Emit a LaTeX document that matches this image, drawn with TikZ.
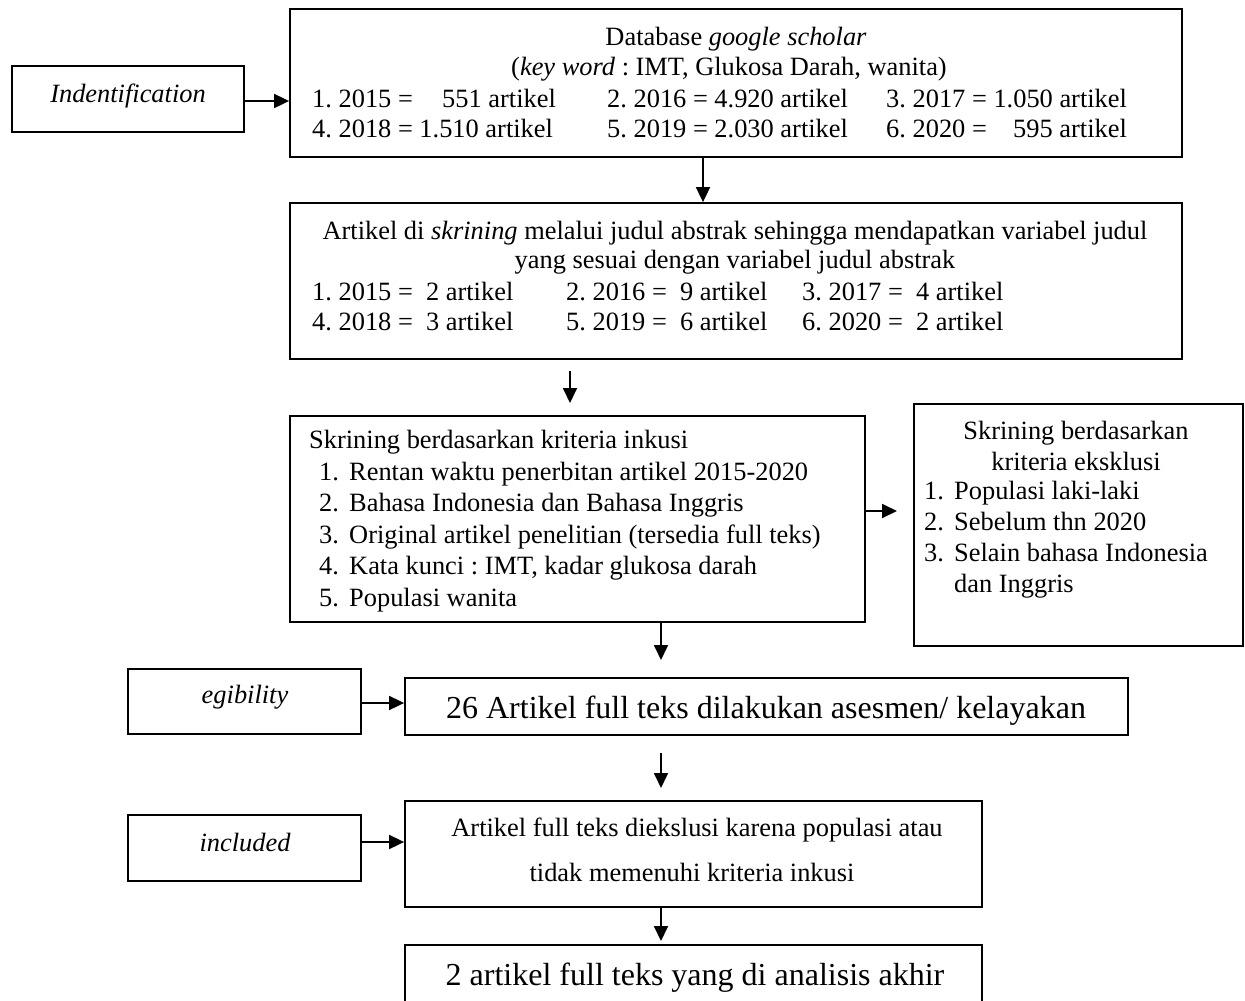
\documentclass[tikz,border=0pt]{standalone}
\usepackage{fontspec}
\setmainfont{Liberation Serif}
\usetikzlibrary{arrows.meta,fit}
\newcommand{\fsn}{\fontsize{26.4pt}{30pt}\selectfont}
\newcommand{\fsb}{\fontsize{32pt}{38pt}\selectfont}
\frenchspacing
\begin{document}
\begin{tikzpicture}[x=1pt,y=-1pt,
  box/.style={draw, line width=1.8pt, inner sep=0pt},
  arr/.style={line width=1.8pt, -{Triangle[length=15pt,width=14pt]}},
  txt/.style={inner sep=0pt, anchor=base west, font=\fsn},
  ctxt/.style={inner sep=0pt, anchor=base, font=\fsn},
  btxt/.style={inner sep=0pt, anchor=base, font=\fsb}]
\fill[white] (0,0) rectangle (1245,1001);
\clip (0,0) rectangle (1245,1001);
% boxes
\node[box, fit={(12,66) (244,132)}] (ind) {};
\node[box, fit={(290,9) (1182,157)}] (db) {};
\node[box, fit={(290,203) (1182,359)}] (scr) {};
\node[box, fit={(290,416) (865,622)}] (inc) {};
\node[box, fit={(914,404) (1243,646)}] (exc) {};
\node[box, fit={(128,669) (361,734)}] (eg) {};
\node[box, fit={(405,678) (1128,735)}] (el) {};
\node[box, fit={(128,815) (361,881)}] (incl) {};
\node[box, fit={(405,801) (982,907)}] (ex) {};
\node[box, fit={(405,945) (982,1040)}] (fin) {};
% texts
\node[ctxt] (tind) at (128,102) {\itshape Indentification};
\node[ctxt] (d1) at (736,45.5) {Database \textit{google scholar}};
\node[ctxt] (d2) at (729,75.5) {(\textit{key word} : IMT, Glukosa Darah, wanita)};
\node[txt] (d3a) at (312,107) {1. 2015 =};
\node[txt] (d3b) at (442,107) {551 artikel};
\node[txt] (d3c) at (607,107) {2. 2016 = 4.920 artikel};
\node[txt] (d3d) at (886,107) {3. 2017 = 1.050 artikel};
\node[txt] (d4a) at (312,137) {4. 2018 = 1.510 artikel};
\node[txt] (d4b) at (607,137) {5. 2019 = 2.030 artikel};
\node[txt] (d4c) at (886,137) {6. 2020 =};
\node[txt] (d4d) at (1013,137) {595 artikel};
\node[ctxt] (s1) at (735,239.5) {Artikel di \textit{skrining} melalui judul abstrak sehingga mendapatkan variabel judul};
\node[ctxt] (s2) at (735,268.5) {yang sesuai dengan variabel judul abstrak};
\node[txt] (s3a) at (312,300.5) {1. 2015 =\ \ 2 artikel};
\node[txt] (s3b) at (566,300.5) {2. 2016 =\ \ 9 artikel};
\node[txt] (s3c) at (802,300.5) {3. 2017 =\ \ 4 artikel};
\node[txt] (s4a) at (312,330.5) {4. 2018 =\ \ 3 artikel};
\node[txt] (s4b) at (566,330.5) {5. 2019 =\ \ 6 artikel};
\node[txt] (s4c) at (802,330.5) {6. 2020 =\ \ 2 artikel};
\node[txt] (i0) at (309,448.5) {Skrining berdasarkan kriteria inkusi};
\node[txt] (i1) at (319,480) {\makebox[30pt][l]{1.}Rentan waktu penerbitan artikel 2015-2020};
\node[txt] (i2) at (319,511.5) {\makebox[30pt][l]{2.}Bahasa Indonesia dan Bahasa Inggris};
\node[txt] (i3) at (319,543.5) {\makebox[30pt][l]{3.}Original artikel penelitian (tersedia full teks)};
\node[txt] (i4) at (319,574.5) {\makebox[30pt][l]{4.}Kata kunci : IMT, kadar glukosa darah};
\node[txt] (i5) at (319,606.5) {\makebox[30pt][l]{5.}Populasi wanita};
\node[ctxt] (e0) at (1076,439.5) {Skrining berdasarkan};
\node[ctxt] (e1) at (1076,470.5) {kriteria eksklusi};
\node[txt] (e2) at (924,499.5) {\makebox[30pt][l]{1.}Populasi laki-laki};
\node[txt] (e3) at (924,530.5) {\makebox[30pt][l]{2.}Sebelum thn 2020};
\node[txt] (e4) at (924,561.5) {\makebox[30pt][l]{3.}Selain bahasa Indonesia};
\node[txt] (e5) at (924,592.5) {\makebox[30pt][l]{}dan Inggris};
\node[ctxt] (teg) at (245,703) {\itshape egibility};
\node[btxt] (tel) at (766,718) {26 Artikel full teks dilakukan asesmen/ kelayakan};
\node[ctxt] (tincl) at (245,851) {\itshape included};
\node[ctxt] (x1) at (697,836.5) {Artikel full teks diekslusi karena populasi atau};
\node[ctxt] (x2) at (692,881.5) {tidak memenuhi kriteria inkusi};
\node[btxt] (tfin) at (695,985) {2 artikel full teks yang di analisis akhir};
% connector helpers
\coordinate (c1) at (703,0);
\coordinate (a2s) at (570,371);
\coordinate (a2e) at (570,403);
\coordinate (a3e) at (897,511);
\coordinate (c4) at (661,0);
\coordinate (a4e) at (661,660);
\coordinate (a5s) at (661,753);
\coordinate (a5e) at (661,788);
\coordinate (a6e) at (661,941);
\coordinate (y1) at (0,101);
\coordinate (y2) at (0,703);
\coordinate (y3) at (0,842);
% connectors
\draw[arr] (ind.east |- y1) -- (db.west |- y1);
\draw[arr] (db.south -| c1) -- (scr.north -| c1);
\draw[arr] (a2s) -- (a2e);
\draw[arr] (inc.east |- a3e) -- (a3e);
\draw[arr] (inc.south -| c4) -- (a4e);
\draw[arr] (eg.east |- y2) -- (el.west |- y2);
\draw[arr] (a5s) -- (a5e);
\draw[arr] (incl.east |- y3) -- (ex.west |- y3);
\draw[arr] (ex.south -| c4) -- (a6e);
\end{tikzpicture}
\end{document}
